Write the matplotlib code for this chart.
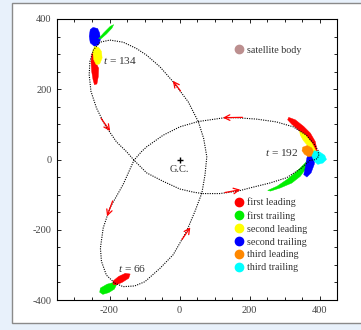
import matplotlib
matplotlib.use("Agg")
import matplotlib.pyplot as plt
from matplotlib.ticker import MultipleLocator
from matplotlib.patches import Rectangle
from matplotlib.lines import Line2D

plt.rcParams['font.family'] = ['Liberation Serif', 'DejaVu Serif']
plt.rcParams['mathtext.fontset'] = 'custom'
plt.rcParams['mathtext.rm'] = 'Liberation Serif'
plt.rcParams['mathtext.it'] = 'Liberation Serif:italic'
plt.rcParams['axes.unicode_minus'] = False

# ---- data ----
orbit_x = [-185, -161, -128, -99, -56, -18, 20, 44, 64, 73, 78, 69, 54, 25, -18, -56, -94,
           -123, -161, -199, -227, -246, -256, -258, -253, -237, -213, -180, -151, -130,
           -94, -47, 1, 40, 66, 115, 167, 201, 258, 306, 349, 372, 390, 398, 396, 387,
           363, 325, 277, 220, 163, 129, 53, 1, -47, -94, -109, -130, -161, -199, -218,
           -226, -223, -209, -185]
orbit_y = [-352, -362, -360, -348, -310, -271, -205, -148, -95, -43, 8, 60, 107, 164, 221,
           264, 297, 316, 334, 340, 334, 312, 279, 241, 194, 146, 98, 50, 22, -2,
           -38, -62, -84, -93, -97, -97, -90, -81, -67, -52, -24, -3, 0, 10, 25, 41,
           69, 93, 107, 115, 119, 119, 108, 93, 69, 36, 22, -2, -71, -138, -195,
           -252, -290, -329, -352]

# arrows along the orbit: (tail_x, tail_y, head_x, head_y)
arrows = [(-224, 117, -198, 81),
          (3, 195, -19, 224),
          (180, 120, 124, 119),
          (-191, -118, -207, -162),
          (7, -228, 31, -193),
          (130, -94, 174, -86)]

# particle streams (polygon outlines)
streams = {
    't134_blue':   ([-247, -234, -228, -226, -231, -243, -255, -258, -255],
                    [376, 373, 360, 341, 327, 322, 332, 351, 370], '#0000ff'),
    't134_green':  ([-231, -217, -198, -188, -193, -209, -224],
                    [344, 360, 379, 384, 374, 357, 344], '#00ee00'),
    't134_red':    ([-250, -243, -238, -231, -232, -236, -243, -247, -251, -253],
                    [303, 298, 274, 260, 236, 215, 213, 227, 251, 279], '#ff0000'),
    't134_yellow': ([-243, -231, -223, -221, -228, -238, -245, -248],
                    [322, 319, 308, 289, 272, 270, 284, 308], '#ffff00'),
    't192_green':  ([252, 279, 307, 336, 359, 374, 369, 359, 345, 321, 288, 260],
                    [-88, -76, -57, -33, -10, 10, -5, -29, -48, -67, -81, -90], '#00ee00'),
    't192_blue':   ([369, 388, 385, 376, 364, 355, 360, 364],
                    [14, 10, -14, -38, -50, -43, -19, 5], '#0000ff'),
    't192_red':    ([312, 331, 355, 374, 388, 393, 391, 379, 360, 340, 321, 309],
                    [120, 113, 94, 75, 51, 27, 22, 41, 65, 84, 100, 113], '#ff0000'),
    't192_yellow': ([343, 360, 379, 391, 383, 369, 353, 345],
                    [81, 70, 46, 22, 17, 36, 55, 70], '#ffff00'),
    't192_orange': ([352, 365, 378, 384, 380, 368, 357, 350],
                    [35, 40, 33, 20, 10, 8, 15, 25], '#ff8800'),
    't192_cyan':   ([385, 400, 415, 420, 410, 395, 385, 378],
                    [25, 22, 12, 0, -10, -14, -5, 10], '#00ffff'),
    't66_green':   ([-226, -207, -188, -179, -186, -202, -219, -228],
                    [-366, -355, -350, -355, -369, -379, -384, -378], '#00ee00'),
    't66_red':     ([-190, -174, -155, -141, -145, -164, -181, -190],
                    [-346, -333, -324, -326, -338, -350, -357, -355], '#ff0000'),
}

time_labels = ['$t$ = 134', '$t$ = 192', '$t$ = 66']
time_label_x = [-218, 244, -175]
time_label_y = [283, 20, -310]

legend_labels = ['first leading', 'first trailing', 'second leading',
                 'second trailing', 'third leading', 'third trailing']
legend_colors = ['#ff0000', '#00ee00', '#ffff00', '#0000ff', '#ff8800', '#00ffff']
body_label = 'satellite body'
body_color = '#bc8f8f'

# ---- figure ----
fig = plt.figure(figsize=(3.61, 3.30), dpi=100)
fig.patch.set_facecolor('#e8f1fb')
panel = Rectangle((12 / 361, 7 / 330), 1.0, 320 / 330, transform=fig.transFigure,
                  facecolor='white', edgecolor='#8a8a8a', linewidth=1.0, zorder=-10)
fig.patches.append(panel)

ax = fig.add_axes([57 / 361, 30 / 330, 280 / 361, 281 / 330])
ax.patch.set_alpha(0)
ax.set_xlim(-350, 450)
ax.set_ylim(-400, 400)

for name, (xs, ys, c) in streams.items():
    ax.fill(xs, ys, color=c, linewidth=0.3, zorder=2)

ax.plot(orbit_x, orbit_y, color='black', linestyle=(0, (1, 1.1)), linewidth=0.8, zorder=3)

for (x0, y0, x1, y1) in arrows:
    ax.annotate('', xy=(x1, y1), xytext=(x0, y0),
                arrowprops=dict(arrowstyle='->', color='red', lw=0.9,
                                mutation_scale=10, shrinkA=0, shrinkB=0), zorder=4)

ax.plot([0], [0], marker='+', color='black', markersize=5, markeredgewidth=1.0, zorder=4)
ax.text(0, -29, 'G.C.', ha='center', va='center', fontsize=7.5, color='#333333')

for lab, lx, ly in zip(time_labels, time_label_x, time_label_y):
    ax.text(lx, ly, lab, ha='left', va='center', fontsize=8.2, color='#333333')

h_body = [Line2D([], [], linestyle='none', marker='o', markersize=6,
                 markerfacecolor=body_color, markeredgecolor=body_color)]
leg1 = ax.legend(h_body, [body_label], loc='upper left', bbox_to_anchor=(0.637, 0.905),
                 frameon=False, fontsize=7.2, handlelength=0.8, handletextpad=0.4,
                 borderpad=0, borderaxespad=0, labelcolor='#333333')
ax.add_artist(leg1)

handles = [Line2D([], [], linestyle='none', marker='o', markersize=6,
                  markerfacecolor=c, markeredgecolor=c) for c in legend_colors]
ax.legend(handles, legend_labels, loc='upper left', bbox_to_anchor=(0.637, 0.364),
          frameon=False, fontsize=7.2, handlelength=0.8, handletextpad=0.4,
          borderpad=0, borderaxespad=0, labelspacing=0.38, labelcolor='#333333')

ax.xaxis.set_major_locator(MultipleLocator(200))
ax.xaxis.set_minor_locator(MultipleLocator(50))
ax.yaxis.set_major_locator(MultipleLocator(200))
ax.yaxis.set_minor_locator(MultipleLocator(50))
ax.tick_params(which='both', direction='in', top=True, right=True, width=0.6,
               labelsize=7.5, labelcolor='#444444')
ax.tick_params(which='major', length=2.6, pad=4)
ax.tick_params(which='minor', length=2.0)
for s in ax.spines.values():
    s.set_linewidth(0.8)

fig.savefig('out.png', dpi=100, facecolor=fig.get_facecolor())
